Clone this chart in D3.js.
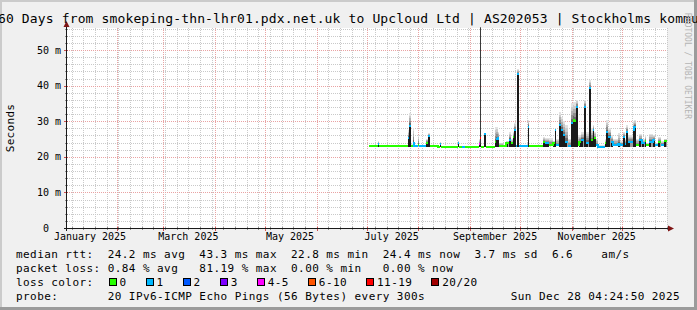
<!DOCTYPE html>
<html>
<head>
<meta charset="UTF-8">
<script src="https://d3js.org/d3.v7.min.js"></script>
<style>
  body { margin: 0; background: #f0f0f0; }
  svg { display: block; font-family: "DejaVu Sans Mono", monospace; }
  text { white-space: pre; }
</style>
</head>
<body>
<svg id="chart" width="697" height="310"></svg>
<script>
// ---- data ----
const sampleTimes = [
  "2025-07-02 09:00", "2025-07-07 19:00", "2025-07-08 16:00", "2025-07-25 19:00", "2025-07-26 09:00",
  "2025-07-27 14:00", "2025-07-28 19:00", "2025-07-29 16:00", "2025-07-31 19:00", "2025-08-01 16:00",
  "2025-08-05 14:00", "2025-08-06 19:00", "2025-08-07 23:00", "2025-08-12 19:00", "2025-08-13 23:00",
  "2025-08-14 14:00", "2025-08-24 19:00", "2025-08-25 16:00", "2025-08-27 04:00", "2025-08-28 23:00",
  "2025-09-06 09:00", "2025-09-06 23:00", "2025-09-07 14:00", "2025-09-09 16:00", "2025-09-10 14:00",
  "2025-09-15 23:00", "2025-09-16 21:00", "2025-09-17 19:00", "2025-09-18 16:00", "2025-09-20 19:00",
  "2025-09-22 21:00", "2025-09-24 16:00", "2025-09-25 14:00", "2025-09-26 19:00", "2025-09-27 09:00",
  "2025-09-28 07:00", "2025-09-29 04:00", "2025-09-30 16:00", "2025-10-05 19:00", "2025-10-06 16:00",
  "2025-10-14 19:00", "2025-10-15 23:00", "2025-10-17 04:00", "2025-10-18 09:00", "2025-10-20 19:00",
  "2025-10-21 23:00", "2025-10-22 21:00", "2025-10-24 09:00", "2025-10-25 14:00", "2025-10-26 19:00",
  "2025-10-27 23:00", "2025-10-29 12:00", "2025-10-31 07:00", "2025-11-01 12:00", "2025-11-02 09:00",
  "2025-11-03 14:00", "2025-11-04 12:00", "2025-11-05 09:00", "2025-11-06 14:00", "2025-11-08 09:00",
  "2025-11-09 21:00", "2025-11-11 09:00", "2025-11-12 14:00", "2025-11-13 19:00", "2025-11-14 16:00",
  "2025-11-15 14:00", "2025-11-16 19:00", "2025-11-20 23:00", "2025-11-21 21:00", "2025-11-23 02:00",
  "2025-11-24 14:00", "2025-11-25 19:00", "2025-11-28 19:00", "2025-11-29 23:00", "2025-12-01 19:00",
  "2025-12-02 23:00", "2025-12-03 21:00", "2025-12-05 02:00", "2025-12-07 12:00", "2025-12-08 16:00",
  "2025-12-09 21:00", "2025-12-11 16:00", "2025-12-13 04:00", "2025-12-14 23:00", "2025-12-15 21:00",
  "2025-12-17 16:00", "2025-12-19 12:00", "2025-12-20 23:00", "2025-12-22 19:00", "2025-12-24 07:00",
  "2025-12-26 09:00"
];
const medianMs = [
  23.0, 23.6, 23.0, 25.4, 28.7, 23.0, 23.9, 23.0, 23.2, 23.0,
  24.0, 25.8, 23.0, 22.8, 23.5, 22.8, 24.0, 22.8, 22.9, 22.8,
  23.5, 25.3, 22.9, 26.3, 22.8, 24.2, 24.9, 25.2, 23.0, 23.0,
  24.0, 24.7, 23.8, 25.6, 27.5, 23.0, 43.3, 23.0, 28.5, 23.0,
  24.2, 23.8, 23.8, 23.3, 23.8, 27.5, 23.3, 28.9, 27.5, 26.1,
  24.2, 23.0, 29.4, 30.3, 30.0, 33.9, 23.3, 24.2, 24.7, 34.0,
  24.0, 39.2, 24.7, 27.5, 25.2, 23.3, 22.8, 23.8, 27.0, 25.6,
  24.2, 23.3, 23.5, 23.3, 25.6, 23.5, 27.0, 24.2, 27.5, 28.5,
  23.3, 24.7, 23.8, 24.5, 23.3, 24.2, 24.7, 23.3, 24.2, 23.3,
  24.4
];
const lossCount = [
  0, 1, 0, 1, 1, 0, 1, 1, 0, 1,
  0, 1, 0, 0, 1, 0, 1, 0, 1, 0,
  5, 16, 0, 1, 0, 0, 1, 1, 0, 0,
  0, 1, 0, 0, 1, 1, 1, 1, 1, 0,
  0, 1, 1, 0, 0, 1, 1, 1, 1, 1,
  1, 1, 1, 0, 0, 1, 0, 0, 1, 1,
  1, 1, 0, 1, 0, 1, 1, 0, 1, 1,
  1, 1, 1, 1, 1, 1, 1, 1, 1, 1,
  0, 1, 1, 0, 0, 1, 1, 1, 0, 1,
  0
];
const smokeTopMs = [
  23.2, 24.4, 23.2, 27.5, 32.3, 23.5, 28.1, 23.3, 26.1, 23.3,
  25.0, 26.7, 23.2, 23.0, 24.2, 23.0, 24.5, 23.0, 23.0, 23.0,
  25.0, 27.0, 23.0, 26.8, 23.0, 28.5, 28.5, 27.0, 24.0, 23.2,
  24.5, 27.0, 25.0, 27.0, 29.5, 23.3, 44.6, 23.3, 30.3, 23.2,
  25.6, 25.2, 25.2, 25.2, 24.5, 28.2, 25.0, 32.5, 31.3, 30.0,
  29.0, 25.0, 35.0, 35.5, 35.5, 36.0, 26.0, 26.0, 27.0, 36.0,
  27.0, 41.6, 28.0, 29.0, 27.0, 25.0, 23.2, 25.0, 30.3, 28.0,
  26.0, 25.0, 26.7, 24.5, 27.0, 25.0, 28.9, 26.0, 30.0, 30.3,
  25.0, 26.5, 25.0, 26.0, 24.0, 26.5, 26.0, 24.0, 25.5, 24.5,
  25.0
];
const outlierTimes = ["2025-09-06 21:00"];
const outlierMs = [56.4];

const lossLabels = ["0", "1", "2", "3", "4-5", "6-10", "11-19", "20/20"];
const lossColors = ["#26ff00", "#00b8ff", "#0059ff", "#7e00ff", "#ff00ff", "#ff5500", "#ff0000", "#a10000"];

const monthLabels = ["January 2025", "March 2025", "May 2025", "July 2025", "September 2025", "November 2025"];
const monthLabelDates = ["2025-01-01 00:00", "2025-03-01 00:00", "2025-05-01 00:00", "2025-07-01 00:00", "2025-09-01 00:00", "2025-11-01 00:00"];

const titleText = "360 Days from smokeping-thn-lhr01.pdx.net.uk to Upcloud Ltd | AS202053 | Stockholms kommun";
const rttLine = "median rtt:  24.2 ms avg  43.3 ms max  22.8 ms min  24.4 ms now  3.7 ms sd  6.6    am/s";
const lossLine = "packet loss: 0.84 % avg   81.19 % max  0.00 % min   0.00 % now";
const probeLine = "probe:       20 IPv6-ICMP Echo Pings (56 Bytes) every 300s";
const stampText = "Sun Dec 28 04:24:50 2025";
const BASE_RTT = 22.8;

// ---- layout ----
const W = 697, H = 310;
const plotL = 67, plotR = 667, plotT = 28, plotB = 228;
const parseTime = d3.utcParse("%Y-%m-%d %H:%M");
const start = parseTime("2025-01-02 04:25");
const end = parseTime("2025-12-28 04:25");

const svg = d3.select("#chart");

const x = d3.scaleUtc().domain([start, end]).range([plotL, plotR]);
const y = d3.scaleLinear().domain([0, 56.2]).range([plotB, plotT]);
const xs = t => Math.round(x(t));
const ys = v => Math.round(y(v));

function lossBucket(n) {
  if (n <= 3) return n;
  if (n <= 5) return 4;
  if (n <= 10) return 5;
  if (n <= 19) return 6;
  return 7;
}

// background + shading
svg.append("rect").attr("width", W).attr("height", H).attr("fill", "#f0f0f0");
svg.append("rect").attr("x", 0).attr("y", 0).attr("width", W).attr("height", 2).attr("fill", "#cbcbcb");
svg.append("rect").attr("x", 0).attr("y", 0).attr("width", 2).attr("height", H).attr("fill", "#cbcbcb");
svg.append("rect").attr("x", W - 3).attr("y", 0).attr("width", 3).attr("height", H).attr("fill", "#9b9b9b");
svg.append("rect").attr("x", 0).attr("y", H - 3).attr("width", W).attr("height", 3).attr("fill", "#9b9b9b");

svg.append("rect").attr("x", plotL).attr("y", plotT)
  .attr("width", plotR - plotL).attr("height", plotB - plotT).attr("fill", "#ffffff");

const crisp = v => Math.round(v) + 0.5;
const minorColor = "#c9c9c9", majorColor = "#e9a3a3";

// grid
const grid = svg.append("g");
const weeks = d3.utcSunday.range(start, end);
const months = d3.utcMonth.range(start, end);
const minorY = d3.range(2, 56.2, 2).filter(v => v % 10 !== 0);
const majorY = d3.range(10, 56.2, 10);

grid.selectAll(".vminor").data(weeks).join("line")
  .attr("x1", d => crisp(x(d))).attr("x2", d => crisp(x(d)))
  .attr("y1", plotT).attr("y2", plotB)
  .attr("stroke", minorColor).attr("stroke-dasharray", "1,1");
grid.selectAll(".hminor").data(minorY).join("line")
  .attr("x1", plotL).attr("x2", plotR)
  .attr("y1", d => crisp(y(d))).attr("y2", d => crisp(y(d)))
  .attr("stroke", minorColor).attr("stroke-dasharray", "1,1");
grid.selectAll(".vmajor").data(months).join("line")
  .attr("x1", d => crisp(x(d))).attr("x2", d => crisp(x(d)))
  .attr("y1", plotT).attr("y2", plotB)
  .attr("stroke", majorColor).attr("stroke-dasharray", "1,1");
grid.selectAll(".hmajor").data(majorY).join("line")
  .attr("x1", plotL).attr("x2", plotR)
  .attr("y1", d => crisp(y(d))).attr("y2", d => crisp(y(d)))
  .attr("stroke", majorColor).attr("stroke-dasharray", "1,1");

// samples
const samples = sampleTimes.map((t, i) => ({
  t: parseTime(t),
  median: medianMs[i],
  loss: lossBucket(lossCount[i]),
  top: smokeTopMs[i]
}));
samples.forEach((d, i) => { d.t1 = i + 1 < samples.length ? samples[i + 1].t : end; });

// smoke: graded grey above the median, lighter grey below it,
// and a dark stroke on the rising edge of each raised step
const smoke = svg.append("g");
const shades = ["#e2e2e2", "#cbcbcb", "#b0b0b0", "#8e8e8e", "#6a6a6a"];
samples.forEach(d => {
  const x0 = xs(d.t), x1 = xs(d.t1);
  if (d.top > d.median) {
    shades.forEach((c, k) => {
      const v = d.median + (d.top - d.median) * (shades.length - k) / shades.length;
      smoke.append("rect")
        .attr("x", x0).attr("width", x1 - x0)
        .attr("y", ys(v)).attr("height", ys(d.median) - ys(v))
        .attr("fill", c);
    });
  }
  if (d.median > BASE_RTT + 0.6) {
    smoke.append("rect")
      .attr("x", x0).attr("width", x1 - x0)
      .attr("y", ys(d.median)).attr("height", ys(BASE_RTT) - ys(d.median))
      .attr("fill", "#9c9c9c");
    smoke.append("rect")
      .attr("x", x0).attr("width", Math.min(2, x1 - x0))
      .attr("y", ys(d.median)).attr("height", ys(BASE_RTT) - ys(d.median))
      .attr("fill", "#1a1a1a");
  }
});

// outliers (very high single pings)
outlierTimes.forEach((t, i) => {
  const tt = parseTime(t);
  const xp = crisp(x(tt));
  const base = samples.find(s => s.t <= tt && s.t1 > tt);
  svg.append("line")
    .attr("x1", xp).attr("x2", xp)
    .attr("y1", y(outlierMs[i])).attr("y2", y(base ? base.median : BASE_RTT))
    .attr("stroke", "#3a3a3a");
});

// median line coloured by loss; steps are only joined vertically when the
// jump is small and the colour stays the same (tall jumps show the smoke)
const runs = [];
samples.forEach(d => {
  const last = runs[runs.length - 1];
  const prev = last && last.pts[last.pts.length - 1];
  if (last && last.loss === d.loss && Math.abs(ys(prev.median) - ys(d.median)) <= 3) last.pts.push(d);
  else runs.push({ loss: d.loss, pts: [d] });
});
svg.append("g").selectAll("path").data(runs).join("path")
  .attr("d", r => {
    let p = "";
    r.pts.forEach((d, i) => {
      p += i === 0 ? "M" + xs(d.t) + "," + ys(d.median) : "V" + ys(d.median);
      p += "H" + xs(d.t1);
    });
    return p;
  })
  .attr("fill", "none")
  .attr("stroke", r => lossColors[r.loss])
  .attr("stroke-width", 2);

// axes
const axisColor = "#1a1a1a", arrowColor = "#7f1515";
svg.append("g").selectAll("line").data(minorY).join("line")
  .attr("x1", plotL - 2).attr("x2", plotL + 1)
  .attr("y1", d => crisp(y(d))).attr("y2", d => crisp(y(d)))
  .attr("stroke", "#8f8f8f");
svg.append("g").selectAll("line").data(majorY).join("line")
  .attr("x1", plotL - 3).attr("x2", plotL + 1)
  .attr("y1", d => crisp(y(d))).attr("y2", d => crisp(y(d)))
  .attr("stroke", "#d05050");
svg.append("g").selectAll("line").data(weeks).join("line")
  .attr("x1", d => crisp(x(d))).attr("x2", d => crisp(x(d)))
  .attr("y1", plotB - 1).attr("y2", plotB + 2)
  .attr("stroke", "#8f8f8f");
svg.append("g").selectAll("line").data(months).join("line")
  .attr("x1", d => crisp(x(d))).attr("x2", d => crisp(x(d)))
  .attr("y1", plotB - 1).attr("y2", plotB + 3)
  .attr("stroke", "#d05050");

svg.append("line").attr("x1", plotL - 3).attr("x2", plotR + 3)
  .attr("y1", plotB + 0.5).attr("y2", plotB + 0.5).attr("stroke", axisColor);
svg.append("line").attr("x1", plotL - 0.5).attr("x2", plotL - 0.5)
  .attr("y1", plotB + 3).attr("y2", plotT - 1).attr("stroke", axisColor);
svg.append("path")
  .attr("d", `M${plotR + 1},${plotB - 2.5}L${plotR + 7},${plotB + 0.5}L${plotR + 1},${plotB + 3.5}Z`)
  .attr("fill", arrowColor);
svg.append("path")
  .attr("d", `M${plotL - 3.5},${plotT - 1}L${plotL - 0.5},${plotT - 7}L${plotL + 2.5},${plotT - 1}Z`)
  .attr("fill", arrowColor);

// y tick labels
svg.append("g").selectAll("text").data(d3.range(0, 56.2, 10)).join("text")
  .attr("x", 61).attr("y", d => y(d)).attr("dy", "0.35em")
  .attr("text-anchor", "end")
  .style("font-size", "10px")
  .text(d => d === 0 ? "0  " : d + " m");

// x month labels, centred in the middle of the month
svg.append("g").selectAll("text").data(monthLabels).join("text")
  .attr("x", (d, i) => x(d3.utcDay.offset(parseTime(monthLabelDates[i]), 15)))
  .attr("y", 240)
  .attr("text-anchor", "middle")
  .style("font-size", "10px")
  .text(d => d);

// y title
svg.append("text")
  .attr("transform", `translate(14,${(plotT + plotB) / 2}) rotate(-90)`)
  .attr("text-anchor", "middle")
  .style("font-size", "11px").style("letter-spacing", "0.3px")
  .text("Seconds");

// title (wider than the image, so both ends get clipped as in the original)
svg.append("text")
  .attr("x", W / 2).attr("y", 23)
  .attr("text-anchor", "middle")
  .style("font-size", "13px").style("letter-spacing", "0.14px")
  .text(titleText);

// watermark
svg.append("text")
  .attr("transform", "translate(685,13) rotate(90)")
  .style("font-size", "8px")
  .attr("fill", "#b4b4b4")
  .text("RRDTOOL / TOBI OETIKER");

// legend
const legend = svg.append("g").style("font-size", "11px").style("letter-spacing", "0.43px");
const charW = 7.05;
legend.append("text").attr("x", 16).attr("y", 257.5).text(rttLine);
legend.append("text").attr("x", 16).attr("y", 271.5).text(lossLine);
legend.append("text").attr("x", 16).attr("y", 285.5).text("loss color:");
legend.append("text").attr("x", 16).attr("y", 299.5).text(probeLine);
legend.append("text").attr("x", 680).attr("y", 299.5).attr("text-anchor", "end").text(stampText);

let cursor = 108.5;
lossLabels.forEach((lab, i) => {
  legend.append("rect")
    .attr("x", Math.round(cursor) + 0.5).attr("y", 278.5)
    .attr("width", 7).attr("height", 7)
    .attr("fill", lossColors[i]).attr("stroke", "#000");
  legend.append("text").attr("x", cursor + 11).attr("y", 285.5).text(lab);
  cursor += 11 + lab.length * charW + 19;
});
</script>
</body>
</html>
